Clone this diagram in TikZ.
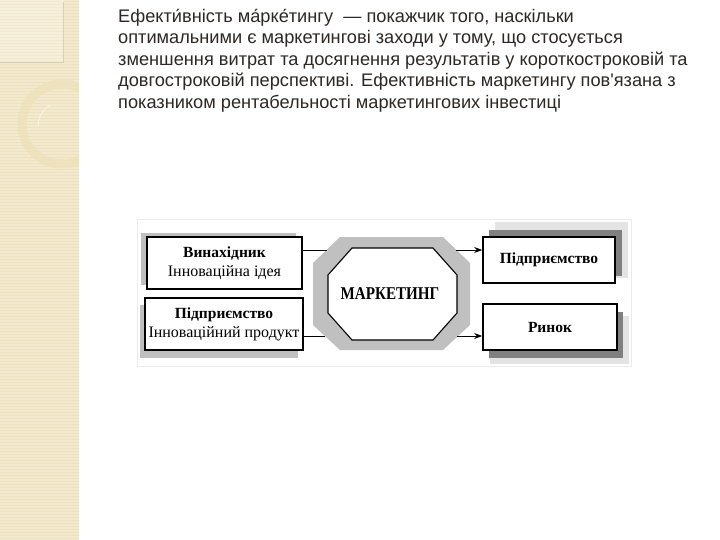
\documentclass[tikz,border=0pt]{standalone}
\usepackage{fontspec}
\setmainfont{Liberation Serif}
\newfontfamily\parafont{Liberation Sans}
\usetikzlibrary{arrows.meta}
\definecolor{beige}{RGB}{243,234,206}
\definecolor{beigeline}{RGB}{236,225,192}
\definecolor{ringcol}{RGB}{237,226,186}
\definecolor{paratext}{RGB}{45,40,36}
\definecolor{shadelight}{RGB}{192,192,192}
\definecolor{shadedark}{RGB}{128,128,128}
\definecolor{aura}{RGB}{228,228,228}
\newcommand{\boldpart}{\fontsize{15.5}{17}\selectfont\bfseries}
\newcommand{\plainpart}{\fontsize{16}{18}\selectfont\mdseries}
\tikzset{
  boxnode/.style={draw=black, line width=1.6pt, fill=white, inner sep=0pt, align=center},
  paraline/.style={anchor=base west, inner sep=0pt, font=\parafont\fontsize{18.2}{21}\selectfont, text=paratext},
  conn/.style={line width=0.9pt},
  arr/.style={line width=0.9pt, -{Stealth[length=8pt,width=6pt]}},
  boldlbl/.style={font=\boldpart}
}
\begin{document}
\begin{tikzpicture}[x=1pt,y=-1pt]
\useasboundingbox (0,0) rectangle (720,540);
\fill[white] (0,0) rectangle (720,540);
% left decorative strip
\fill[beige] (0,0) rectangle (79,540);
\foreach \yy in {1.5,4.5,...,540} { \draw[beigeline, line width=0.8pt] (0,\yy) -- (79,\yy); }
\begin{scope}
\clip (0,0) rectangle (79,540);
\fill[white, opacity=0.25] (0,0) rectangle (63,62);
\draw[beigeline!80!black!50!beige, line width=0.5pt] (0,62) -- (63,62) -- (63,0);
\draw[white!70!beige, line width=1.2pt] (63,2) arc[start angle=0, end angle=-80, x radius=55, y radius=60];
\draw[ringcol, line width=9pt, opacity=0.8] (62,124) circle[radius=40];
\draw[white!60!ringcol, line width=1pt] (38,126) arc[start angle=180, end angle=240, radius=24];
\end{scope}
% paragraph
\node[paraline] (p1) at (118,22.5) {Ефекти́вність ма́рке́тингу \ — покажчик того, наскільки};
\node[paraline] (p2) at (118,44) {оптимальними є маркетингові заходи у тому, що стосується};
\node[paraline] (p3) at (118,65.5) {зменшення витрат та досягнення результатів у короткостроковій та};
\node[paraline] (p4) at (118,87) {довгостроковій перспективі. Ефективність маркетингу пов'язана з};
\node[paraline] (p5) at (118,108.5) {показником рентабельності маркетингових інвестиці};
% faint frame of the figure
\draw[aura!70!white, line width=1pt] (137,220) rectangle (631,366);
% shadows
\fill[shadelight] (141,233) rectangle (296,285);
\fill[shadelight] (140,305) rectangle (298,358);
\fill[aura] (495,222) rectangle (628,278);
\fill[shadedark] (489,230) rectangle (622,276);
\fill[aura] (490,316) rectangle (629,364);
\fill[shadedark] (489,312) rectangle (623,358);
% octagon
\fill[shadelight] (340,237) -- (443,237) -- (470,263) -- (470,325) -- (443,350) -- (340,350) -- (313,325) -- (313,263) -- cycle;
\filldraw[fill=white, draw=black, line width=1.1pt] (352,248) -- (433,248) -- (457,275) -- (457,313) -- (433,340) -- (352,340) -- (328,313) -- (328,275) -- cycle;
\node[inner sep=0pt, font=\fontsize{18}{20}\selectfont\bfseries] (mkt) at (390,294) {\scalebox{0.84}[1]{МАРКЕТИНГ}};
\coordinate (octL1) at (327,250);
\coordinate (octL2) at (325,336);
\coordinate (octR1) at (456,250);
\coordinate (octR2) at (457,336);
% boxes
\node[boxnode, minimum width=155pt, minimum height=52pt] (inv) at (224.5,263) {\boldpart Винахідник\\[4pt]\plainpart Інноваційна ідея};
\node[boxnode, minimum width=158pt, minimum height=52pt] (ent) at (224,324) {\boldpart Підприємство\\[4pt]\plainpart Інноваційний продукт};
\node[boxnode, minimum width=132pt, minimum height=46pt, boldlbl] (ent2) at (549,260) {Підприємство};
\node[boxnode, minimum width=134pt, minimum height=46pt, boldlbl] (mkt2) at (550,327) {Ринок};
% connectors
\draw[conn] (inv.east |- octL1) -- (octL1);
\draw[conn] (ent.east |- octL2) -- (octL2);
\draw[arr] (octR1) -- (ent2.west |- octR1);
\draw[arr] (octR2) -- (mkt2.west |- octR2);
\end{tikzpicture}
\end{document}
